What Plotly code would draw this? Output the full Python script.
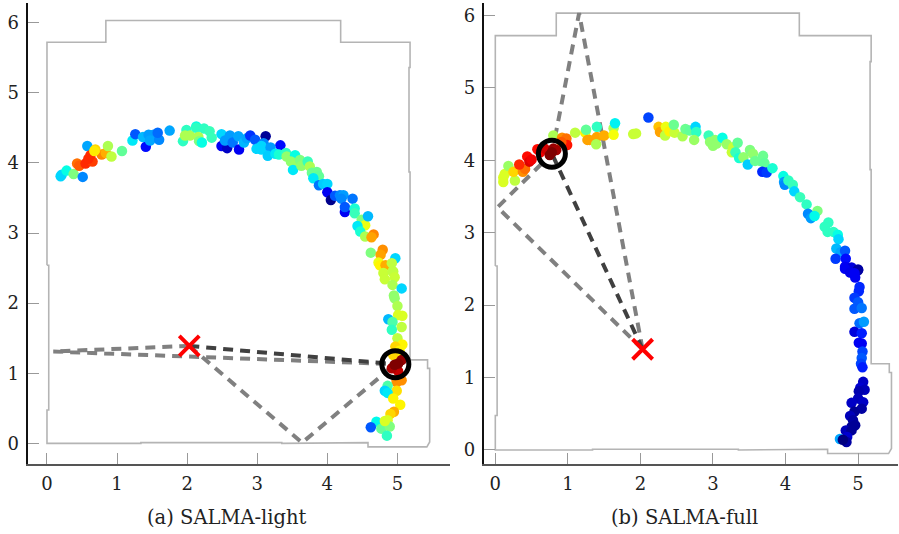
import plotly.graph_objects as go

wall_x = [0,0,.84,.84,4.19,4.19,5.18,5.18,5.165,5.165,5.18,5.18,5.43,5.43,5.46,5.46,5.42,4.58,4.58,3.35,3.35,1.34,1.34,0,0,.025,.025,0]
wall_y = [2.54,5.72,5.72,6.03,6.03,5.72,5.72,5.36,5.36,3.87,3.87,1.19,1.19,1.07,1.07,.02,-.05,-.05,.01,0,.01,.01,0,0,.475,.475,2.54,2.54]

source = (2.03, 1.39)

light_est = (4.97, 1.13)
light_ray1 = ([2.03,.09,4.97], [1.39,1.31,1.13])
light_ray2 = ([2.03,3.64,4.97], [1.39,.01,1.13])
light_x = [.195,.21,.28,.38,.51,.575,.43,.46,.55,.65,.59,.62,.78,.69,.675,.84,.87,.92,1.07,1.22,1.26,1.41,1.37,1.45,1.52,1.47,1.6,1.58,1.75,1.94,1.99,1.97,2.04,2.13,2.13,2.24,2.32,2.35,2.16,2.17,2.21,2.49,2.49,2.57,2.54,2.61,2.65,2.73,2.74,2.81,2.85,2.9,2.97,3.12,3.33,3.09,2.99,3.06,3.06,3.19,3.15,3.26,3.31,3.41,3.42,3.54,3.48,3.54,3.51,3.61,3.63,3.72,3.75,3.78,3.85,3.88,3.8,3.88,3.94,4.0,4.0,4.05,4.11,4.18,4.23,4.2,4.36,4.25,4.25,4.39,4.39,4.49,4.54,4.43,4.47,4.54,4.58,4.66,4.63,4.62,4.79,4.76,4.97,4.73,4.75,4.83,4.92,4.94,4.8,4.93,4.82,4.96,4.93,5.06,4.95,4.96,5.0,5.01,5.07,4.87,4.93,5.06,4.92,5.0,5.07,4.97,5.03,4.94,4.99,5.06,4.99,4.86,4.99,4.82,4.86,4.94,5.04,4.95,4.9,4.86,4.7,4.62,4.77,4.89,4.85,4.82,5.01,4.92,5.06,5.01,4.96]
light_y = [3.81,3.83,3.89,3.84,3.80,4.24,3.99,3.96,3.99,4.02,4.06,4.11,4.12,4.19,4.17,4.14,4.24,4.09,4.17,4.32,4.41,4.23,4.37,4.40,4.40,4.32,4.33,4.43,4.46,4.31,4.47,4.39,4.39,4.52,4.5,4.49,4.45,4.36,4.37,4.31,4.29,4.41,4.24,4.21,4.32,4.39,4.29,4.38,4.19,4.29,4.35,4.39,4.33,4.38,4.25,4.28,4.2,4.24,4.19,4.22,4.1,4.13,4.12,4.14,4.09,4.11,4.02,3.97,3.9,4.04,3.96,4.02,3.95,3.86,3.87,3.81,3.78,3.68,3.7,3.7,3.58,3.47,3.53,3.54,3.54,3.49,3.49,3.3,3.37,3.35,3.28,3.19,3.11,3.1,3.02,2.95,3.24,2.98,2.94,2.72,2.76,2.69,2.64,2.58,2.54,2.54,2.57,2.45,2.43,2.45,2.34,2.37,2.26,2.21,2.11,2.07,1.96,1.83,1.82,1.77,1.73,1.66,1.62,1.5,1.41,1.38,1.32,1.26,.9,.9,.87,.82,.75,.75,.72,.64,.55,.45,.42,.33,.31,.23,.21,.24,.11,.32,1.03,1.07,1.19,1.14,1.12]
light_c = [.33,.33,.38,.5,.25,.28,.78,.8,.85,.83,.85,.85,.76,.68,.66,.72,.55,.57,.47,.35,.2,.12,.3,.27,.27,.28,.25,.22,.28,.42,.42,.55,.55,.38,.42,.42,.43,.43,.55,.5,.38,.33,.1,.06,.27,.27,.23,.28,.1,.3,.28,.16,.2,.02,.12,.25,.33,.33,.33,.27,.32,.35,.4,.42,.52,.38,.52,.53,.35,.5,.52,.43,.55,.48,.48,.47,.35,.23,.32,.33,.1,.01,.2,.25,.27,.25,.23,.1,.2,.4,.43,.5,.62,.35,.4,.55,.3,.76,.73,.5,.75,.73,.33,.62,.65,.72,.57,.57,.58,.57,.58,.58,.55,.33,.52,.52,.55,.6,.6,.3,.45,.57,.42,.57,.65,.68,.65,.68,.77,.75,.75,.45,.67,.33,.35,.65,.65,.72,.68,.6,.37,.2,.47,.5,.42,.6,.94,.96,.98,1.0,1.0]

full_est = (.78, 4.09)
full_ray1 = ([2.03,1.155,.78], [1.39,6.03,4.09])
full_ray2 = ([2.03,.03,.78], [1.39,3.35,4.09])
full_x = [.11,.11,.13,.18,.27,.25,.38,.41,.33,.44,.47,.5,.58,.62,.68,.8,.92,.98,.99,.91,.75,.8,.84,.78,1.1,1.24,1.25,1.27,1.3,1.4,1.5,1.39,1.4,1.63,1.63,1.65,1.9,1.94,2.11,2.25,2.27,2.35,2.34,2.4,2.47,2.46,2.58,2.62,2.68,2.76,2.77,2.74,2.94,3.03,2.96,3.0,3.05,3.13,3.19,3.28,3.26,3.34,3.31,3.36,3.42,3.48,3.51,3.55,3.58,3.69,3.65,3.71,3.68,3.74,3.82,3.97,3.98,3.99,4.04,4.1,4.12,4.2,4.29,4.44,4.31,4.35,4.4,4.59,4.54,4.58,4.66,4.72,4.73,4.7,4.76,4.82,4.69,4.83,4.82,4.91,5.0,4.82,5.0,4.89,4.95,4.96,5.02,5.01,4.95,5.0,4.95,5.05,5.02,5.08,4.95,5.05,5.01,5.05,5.06,5.05,5.04,5.06,5.07,5.03,5.09,5.01,5.0,5.07,4.91,5.05,4.95,4.89,4.93,4.91,4.96,4.83,4.91,4.85,4.75,4.84,4.79]
full_y = [3.7,3.76,3.81,3.92,3.72,3.84,3.84,3.88,3.94,4.05,3.98,4.01,4.15,4.11,4.16,4.34,4.31,4.3,4.21,4.25,4.07,4.16,4.14,4.11,4.38,4.38,4.42,4.28,4.28,4.32,4.34,4.22,4.46,4.44,4.35,4.51,4.36,4.37,4.59,4.46,4.39,4.46,4.34,4.4,4.38,4.49,4.33,4.43,4.41,4.46,4.39,4.28,4.34,4.28,4.25,4.2,4.23,4.31,4.22,4.18,4.11,4.24,4.11,4.03,4.04,3.94,4.14,4.09,3.99,4.06,3.99,3.96,3.84,3.83,3.89,3.78,3.7,3.66,3.72,3.66,3.57,3.49,3.39,3.3,3.26,3.2,3.23,3.14,3.08,3.01,3.01,2.97,2.91,2.78,2.73,2.75,2.64,2.64,2.53,2.52,2.49,2.5,2.48,2.45,2.44,2.38,2.25,2.19,2.1,2.04,1.95,1.96,1.75,1.77,1.63,1.61,1.48,1.47,1.36,1.27,1.19,1.14,.94,.86,.83,.81,.71,.66,.65,.57,.53,.47,.41,.32,.34,.27,.27,.18,.15,.11,.14]
full_c = [.6,.6,.6,.53,.57,.68,.75,.78,.85,.88,.92,.9,.88,.9,.93,.55,.75,.78,.87,.8,1.0,.98,.97,1.0,.57,.65,.47,.73,.73,.73,.72,.55,.42,.55,.63,.36,.58,.58,.18,.7,.73,.62,.57,.65,.58,.48,.55,.48,.47,.33,.42,.53,.43,.52,.52,.52,.52,.38,.53,.58,.58,.47,.43,.4,.52,.32,.5,.52,.48,.48,.48,.47,.15,.17,.4,.38,.27,.25,.42,.43,.33,.43,.42,.5,.25,.27,.37,.42,.42,.42,.42,.38,.33,.3,.28,.2,.17,.12,.1,.08,.03,.1,.03,.09,.1,.1,.15,.15,.17,.2,.2,.23,.22,.27,.08,.14,.1,.1,.18,.2,.18,.14,.06,.07,.05,.04,.05,.06,.06,.03,.02,.05,.03,.02,.02,.05,.02,.07,.28,.03,0]

tick_vals = [0, 1, 2, 3, 4, 5]
y_tick_vals = [0, 1, 2, 3, 4, 5, 6]
captions = ["(a) SALMA-light", "(b) SALMA-full"]

W, H = 899, 534
FONT = "DejaVu Serif"
JET = [[0, "#00007f"], [.11, "#0000ff"], [.34, "#00e0ff"], [.375, "#00ffe8"], [.5, "#7fff7f"], [.64, "#ffff00"], [.89, "#ff0000"], [1, "#7f0000"]]
fig = go.Figure()

def panel(ax, ray1, ray2, est, xs, ys, cs):
    xa, ya = "x" + ax, "y" + ax
    fig.add_trace(go.Scatter(x=wall_x, y=wall_y, mode="lines", line=dict(color="#b4b4b4", width=1.6), xaxis=xa, yaxis=ya, showlegend=False))
    for r in (ray1, ray2):
        fig.add_trace(go.Scatter(x=r[0], y=r[1], mode="lines", line=dict(color="#808080", width=4, dash="10px,7px"), xaxis=xa, yaxis=ya, showlegend=False))
    fig.add_trace(go.Scatter(x=[source[0], est[0]], y=[source[1], est[1]], mode="lines", line=dict(color="#404040", width=4, dash="10px,7px"), xaxis=xa, yaxis=ya, showlegend=False))
    fig.add_trace(go.Scatter(x=xs, y=ys, mode="markers", marker=dict(size=10.5, color=cs, colorscale=JET, cmin=0, cmax=1, line=dict(width=0)), xaxis=xa, yaxis=ya, showlegend=False))
    fig.add_trace(go.Scatter(x=[est[0]], y=[est[1]], mode="markers", marker=dict(symbol="circle-open", size=27, color="black", line=dict(color="black", width=5)), xaxis=xa, yaxis=ya, showlegend=False))
    fig.add_trace(go.Scatter(x=[source[0]], y=[source[1]], mode="markers", marker=dict(symbol="x-thin-open", size=20, color="#ff0000", line=dict(color="#ff0000", width=4)), xaxis=xa, yaxis=ya, showlegend=False))

panel("", light_ray1, light_ray2, light_est, light_x, light_y, light_c)
panel("2", full_ray1, full_ray2, full_est, full_x, full_y, full_c)

def xaxis(dom, rng, anchor):
    return dict(domain=dom, range=rng, anchor=anchor, showgrid=False, zeroline=False, tickvals=tick_vals, ticks="inside", ticklen=11, tickwidth=1, tickcolor="#999999",
                showline=True, linecolor="#555555", linewidth=2, tickfont=dict(family=FONT, size=18, color="#222222"), ticklabelstandoff=3)
def yaxis(dom, rng, anchor):
    return dict(domain=dom, range=rng, anchor=anchor, showgrid=False, zeroline=False, tickvals=y_tick_vals, ticks="inside", ticklen=11, tickwidth=1, tickcolor="#999999",
                showline=True, linecolor="#111111", linewidth=2, tickfont=dict(family=FONT, size=18, color="#222222"), ticklabelstandoff=3)

fig.update_layout(
    width=W, height=H, autosize=False, margin=dict(l=0, r=0, t=0, b=0), plot_bgcolor="white", paper_bgcolor="white",
    xaxis=xaxis([27.5/W, 450/W], [-.278, 5.75], "y"),
    yaxis=yaxis([(H-463.7)/H, (H-3)/H], [-.29, 6.28], "x"),
    xaxis2=xaxis([483.7/W, 898/W], [-.16, 5.55], "y2"),
    yaxis2=yaxis([(H-463.7)/H, (H-3)/H], [-.19, 6.17], "x2"),
    annotations=[
        dict(text=captions[0], xref="paper", yref="paper", x=227/W, y=(H-517)/H, showarrow=False, font=dict(family=FONT, size=19.5, color="#222222"), xanchor="center", yanchor="middle"),
        dict(text=captions[1], xref="paper", yref="paper", x=684/W, y=(H-517)/H, showarrow=False, font=dict(family=FONT, size=19.5, color="#222222"), xanchor="center", yanchor="middle"),
    ],
)
fig.write_html("out.html", post_script="document.body.style.margin='0';", config=dict(displayModeBar=False))
